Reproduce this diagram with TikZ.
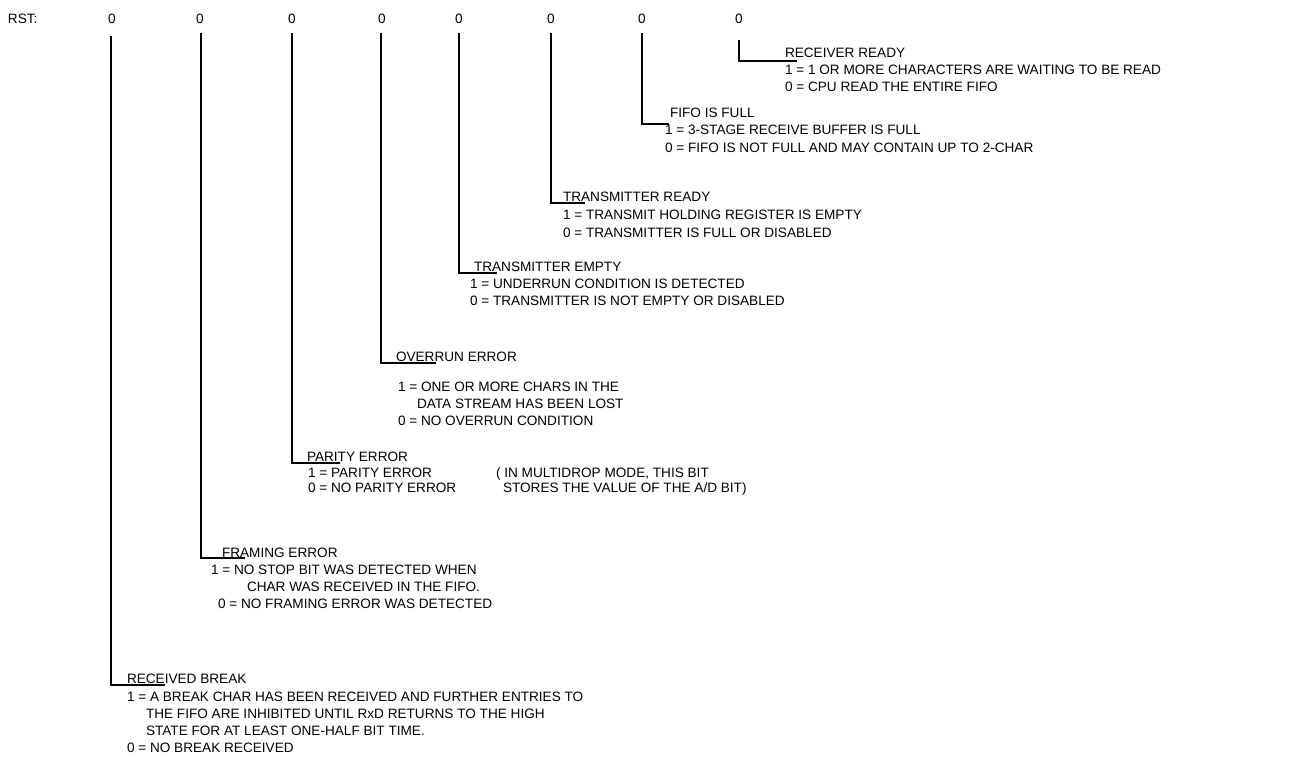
\documentclass[tikz,border=0pt]{standalone}
\usepackage{fontspec}
\setmainfont{Liberation Sans}
\begin{document}
\begin{tikzpicture}[x=1pt,y=-1pt,
  txt/.style={anchor=base west,inner sep=0pt,outer sep=0pt,font=\fontsize{13.6}{16}\selectfont},
  bitval/.style={anchor=base,inner sep=0pt,font=\fontsize{13.6}{16}\selectfont},
  lead/.style={line width=1.4pt,line cap=butt}]
\useasboundingbox (0,0) rectangle (1314,769);
% header
\node[txt] (rst) at (8,23) {RST:};
\foreach \x/\n in {112/z1,200/z2,292/z3,382/z4,459/z5,551/z6,642/z7,739/z8}
  \node[bitval] (\n) at (\x,23) {0};
% RECEIVER READY
\node[txt] (rr) at (785,57) {RECEIVER READY};
\node[txt] (rr1) at (785,74) {1 = 1 OR MORE CHARACTERS ARE WAITING TO BE READ};
\node[txt] (rr0) at (785,91) {0 = CPU READ THE ENTIRE FIFO};
\coordinate (t8) at (739,40); \coordinate (c8) at (739,61); \coordinate (e8) at (797,61);
\draw[lead] (t8) -- (c8) -- (e8);
% FIFO IS FULL
\node[txt] (ff) at (670,117) {FIFO IS FULL};
\node[txt] (ff1) at (665,134) {1 = 3-STAGE RECEIVE BUFFER IS FULL};
\node[txt] (ff0) at (665,152) {0 = FIFO IS NOT FULL AND MAY CONTAIN UP TO 2-CHAR};
\coordinate (t7) at (642,33); \coordinate (c7) at (642,124); \coordinate (e7) at (669,124);
\draw[lead] (t7) -- (c7) -- (e7);
% TRANSMITTER READY
\node[txt] (tr) at (563,201) {TRANSMITTER READY};
\node[txt] (tr1) at (563,219) {1 = TRANSMIT HOLDING REGISTER IS EMPTY};
\node[txt] (tr0) at (563,237) {0 = TRANSMITTER IS FULL OR DISABLED};
\coordinate (t6) at (551,33); \coordinate (c6) at (551,203); \coordinate (e6) at (585,203);
\draw[lead] (t6) -- (c6) -- (e6);
% TRANSMITTER EMPTY
\node[txt] (te) at (474,271) {TRANSMITTER EMPTY};
\node[txt] (te1) at (470,288) {1 = UNDERRUN CONDITION IS DETECTED};
\node[txt] (te0) at (470,305) {0 = TRANSMITTER IS NOT EMPTY OR DISABLED};
\coordinate (t5) at (459,33); \coordinate (c5) at (459,273); \coordinate (e5) at (497,273);
\draw[lead] (t5) -- (c5) -- (e5);
% OVERRUN ERROR
\node[txt] (ov) at (396,361) {OVERRUN ERROR};
\node[txt] (ov1) at (398,391) {1 = ONE OR MORE CHARS IN THE};
\node[txt] (ov1b) at (417,408) {DATA STREAM HAS BEEN LOST};
\node[txt] (ov0) at (398,425) {0 = NO OVERRUN CONDITION};
\coordinate (t4) at (381,33); \coordinate (c4) at (381,363); \coordinate (e4) at (436,363);
\draw[lead] (t4) -- (c4) -- (e4);
% PARITY ERROR
\node[txt] (pe) at (307,461) {PARITY ERROR};
\node[txt] (pe1) at (308,477) {1 = PARITY ERROR};
\node[txt] (pe0) at (308,492) {0 = NO PARITY ERROR};
\node[txt] (pen1) at (496,477) {( IN MULTIDROP MODE, THIS BIT};
\node[txt] (pen2) at (503,492) {STORES THE VALUE OF THE A/D BIT)};
\coordinate (t3) at (292,33); \coordinate (c3) at (292,463); \coordinate (e3) at (340,463);
\draw[lead] (t3) -- (c3) -- (e3);
% FRAMING ERROR
\node[txt] (fe) at (222,557) {FRAMING ERROR};
\node[txt] (fe1) at (211,574) {1 = NO STOP BIT WAS DETECTED WHEN};
\node[txt] (fe1b) at (247,591) {CHAR WAS RECEIVED IN THE FIFO.};
\node[txt] (fe0) at (218,608) {0 = NO FRAMING ERROR WAS DETECTED};
\coordinate (t2) at (201,33); \coordinate (c2) at (201,558); \coordinate (e2) at (245,558);
\draw[lead] (t2) -- (c2) -- (e2);
% RECEIVED BREAK
\node[txt] (rb) at (127,683) {RECEIVED BREAK};
\node[txt] (rb1) at (127,701) {1 = A BREAK CHAR HAS BEEN RECEIVED AND FURTHER ENTRIES TO};
\node[txt] (rb1b) at (146,718) {THE FIFO ARE INHIBITED UNTIL RxD RETURNS TO THE HIGH};
\node[txt] (rb1c) at (146,735) {STATE FOR AT LEAST ONE-HALF BIT TIME.};
\node[txt] (rb0) at (127,752) {0 = NO BREAK RECEIVED};
\coordinate (t1) at (111,36); \coordinate (c1) at (111,685); \coordinate (e1) at (165,685);
\draw[lead] (t1) -- (c1) -- (e1);
\end{tikzpicture}
\end{document}
